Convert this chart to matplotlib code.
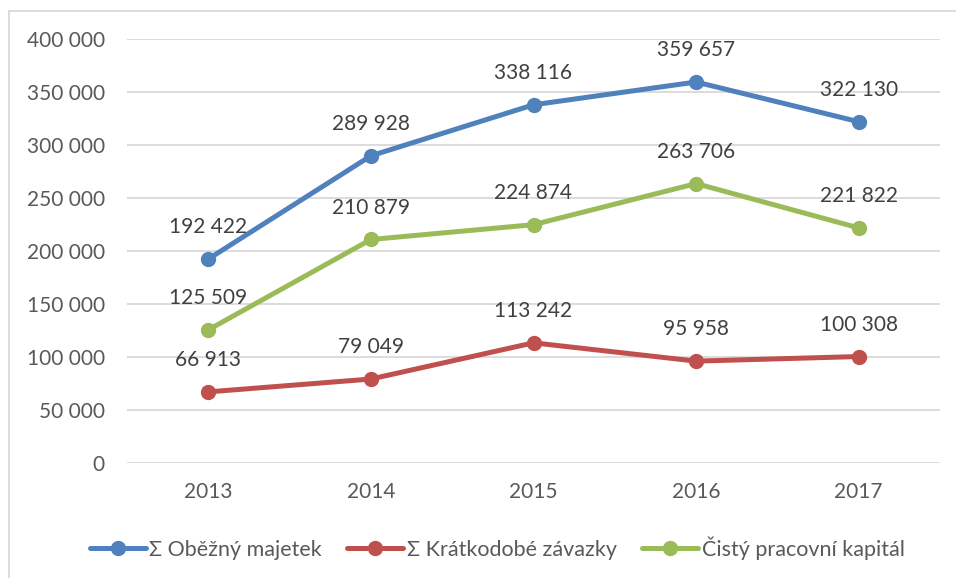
import numpy as np
import matplotlib.pyplot as plt
from matplotlib.ticker import FuncFormatter
from matplotlib.patches import Rectangle

years = ['2013', '2014', '2015', '2016', '2017']
obezny = [192422, 289928, 338116, 359657, 322130]
kratkodobe = [66913, 79049, 113242, 95958, 100308]
cisty = [125509, 210879, 224874, 263706, 221822]

series_names = ['Σ Oběžný majetek', 'Σ Krátkodobé závazky', 'Čistý pracovní kapitál']
colors = ['#4F81BD', '#C0504D', '#9BBB59']

plt.rcParams['font.family'] = ['Lato', 'DejaVu Sans']
txt = '#595959'

def fmt(v, pos=None):
    return '{:,}'.format(int(v)).replace(',', ' ')

fig = plt.figure(figsize=(9.56, 5.78), dpi=100)
ax = fig.add_axes([127/956, 1-462.7/578, (940-127)/956, (462.7-39.3)/578])

# chart border (only top/left visible in crop)
fig.patches.append(Rectangle((9/956, -0.1), 1.2, (578-11)/578+0.1, transform=fig.transFigure,
                             fill=False, edgecolor='#D9D9D9', linewidth=1.3))

x = np.arange(len(years))
for vals, name, c in zip([obezny, kratkodobe, cisty], series_names, colors):
    ax.plot(x, vals, color=c, linewidth=3.6, marker='o', markersize=10, label=name,
            solid_capstyle='round', zorder=3)
    for xi, v in zip(x, vals):
        ax.annotate(fmt(v), (xi, v), xytext=(0, 23), textcoords='offset points',
                    ha='center', va='center', fontsize=15, color='#404040')

ax.set_xlim(-0.5, 4.5)
ax.set_ylim(0, 400000)
ax.set_yticks(np.arange(0, 400001, 50000))
ax.yaxis.set_major_formatter(FuncFormatter(fmt))
ax.set_xticks(x, years)
ax.grid(axis='y', color='#D9D9D9', linewidth=1.3)
ax.set_axisbelow(True)
for s in ax.spines.values():
    s.set_visible(False)
ax.tick_params(length=0, labelsize=15, labelcolor=txt)
ax.tick_params(axis='y', pad=16)
ax.tick_params(axis='x', pad=14)

fig.legend(loc='center', bbox_to_anchor=(0.52, 1-548/578), ncol=3, frameon=False,
           fontsize=15.5, labelcolor=txt, handlelength=2.6, handletextpad=0.15, columnspacing=1.2)

fig.savefig('out.png', dpi=100)
